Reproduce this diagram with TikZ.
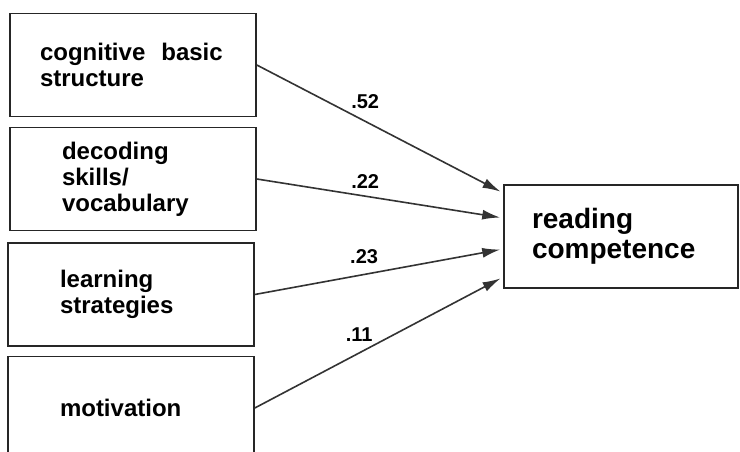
\documentclass[tikz,border=0pt]{standalone}
\usepackage{fontspec}
\setmainfont{Liberation Sans}
\usetikzlibrary{arrows.meta}

\begin{document}
\begin{tikzpicture}[x=1pt,y=-1pt,>={Latex[length=18pt,width=10pt]},
  factor/.style={draw=black!85,line width=1.6pt,align=left,minimum height=103pt,
    inner xsep=52pt,text width=142pt,font=\fontsize{24}{26}\selectfont\bfseries},
  outcome/.style={factor,inner xsep=28pt,text width=178pt,font=\fontsize{28}{30}\selectfont\bfseries},
  path/.style={->,line width=1.6pt,draw=black!80,shorten >=3pt},
  coef/.style={font=\fontsize{20}{20}\selectfont\bfseries,inner sep=2pt}]
\clip (0,0) rectangle (740,452);
\fill[white] (0,0) rectangle (740,452);
% predictors
\node[factor,inner xsep=30pt,text width=186pt] (cog) at (133,65) {cognitive\ \ basic\\structure};
\node[factor] (dec) at (133,179) {decoding\\skills/\\vocabulary};
\node[factor] (strat) at (131,294.5) {learning\\strategies};
\node[factor] (mot) at (131,408) {motivation};
% criterion
\node[outcome] (read) at (621,236.5) {reading\\competence};
% path coefficients
\draw[path] (cog.east) -- node[coef,pos=.44,above=10pt] (c1) {.52} ([yshift=43.5pt]read.west);
\draw[path] (dec.east) -- node[coef,pos=.44,above=4.5pt] (c2) {.22} ([yshift=18.5pt]read.west);
\draw[path] (strat.east) -- node[coef,pos=.44,above=8pt] (c3) {.23} ([yshift=-12.5pt]read.west);
\draw[path] (mot.east) -- node[coef,pos=.42,above=9pt] (c4) {.11} ([yshift=-40.5pt]read.west);
\end{tikzpicture}
\end{document}
